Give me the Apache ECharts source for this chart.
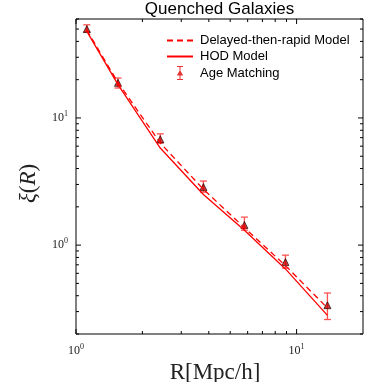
<!DOCTYPE html>
<html>
<head>
<meta charset="utf-8">
<script src="https://cdn.jsdelivr.net/npm/echarts@6/dist/echarts.min.js"></script>
<style>
  html, body { margin: 0; padding: 0; background: #fff; }
  #chart { width: 382px; height: 382px; }
</style>
</head>
<body>
<div id="chart"></div>
<script>
// separation R [Mpc/h]
const radius = [1.12, 1.55, 2.41, 3.78, 5.8, 8.9, 13.8];
const delayedModel = [49, 19, 6.35, 2.75, 1.37, 0.69, 0.32];
const hodModel = [48, 18.3, 5.8, 2.5, 1.31, 0.65, 0.28];
const ageMatching = [50, 18.9, 6.8, 2.86, 1.44, 0.735, 0.337];
const ageErrLow = [47.5, 17.2, 6.35, 2.61, 1.31, 0.66, 0.26];
const ageErrHigh = [54, 20.6, 7.5, 3.19, 1.66, 0.834, 0.42];

const xMin = 1, xMax = 20, yMin = 0.2, yMax = 60;
const xMajorTicks = [1, 10];
const xMinorTicks = [2, 3, 4, 5, 6, 7, 8, 9];
const yMajorTicks = [1, 10];
const yMinorTicks = [0.2, 0.3, 0.4, 0.5, 0.6, 0.7, 0.8, 0.9, 2, 3, 4, 5, 6, 7, 8, 9, 20, 30, 40, 50, 60];

const serif = '"Liberation Serif", "DejaVu Serif", serif';
const sans = '"Liberation Sans", Arial, sans-serif';

const pairs = ys => radius.map((x, i) => [x, ys[i]]);

const powLabel = v => {
  const l = Math.log10(v);
  const e = Math.round(l);
  if (Math.abs(l - e) > 1e-6) return '';
  return '{b|10}{s|' + e + '}';
};
const powRich = {
  b: { fontFamily: serif, fontSize: 12, color: '#222', lineHeight: 16 },
  s: { fontFamily: serif, fontSize: 8, color: '#222', lineHeight: 9, verticalAlign: 'top' }
};

// tick marks on all four sides, pointing inward
const xTicks = (vals, len) => ({
  type: 'custom',
  silent: true,
  data: vals.map(v => [v, yMin]),
  renderItem: (params, api) => {
    const cs = params.coordSys;
    const p = api.coord([api.value(0), yMin]);
    const st = { stroke: '#000', lineWidth: 1 };
    const bottom = cs.y + cs.height;
    return {
      type: 'group',
      children: [
        { type: 'line', shape: { x1: p[0], y1: bottom, x2: p[0], y2: bottom - len }, style: st },
        { type: 'line', shape: { x1: p[0], y1: cs.y, x2: p[0], y2: cs.y + len }, style: st }
      ]
    };
  }
});
const yTicks = (vals, len) => ({
  type: 'custom',
  silent: true,
  data: vals.map(v => [xMin, v]),
  renderItem: (params, api) => {
    const cs = params.coordSys;
    const p = api.coord([xMin, api.value(1)]);
    const st = { stroke: '#000', lineWidth: 1 };
    const right = cs.x + cs.width;
    return {
      type: 'group',
      children: [
        { type: 'line', shape: { x1: cs.x, y1: p[1], x2: cs.x + len, y2: p[1] }, style: st },
        { type: 'line', shape: { x1: right, y1: p[1], x2: right - len, y2: p[1] }, style: st }
      ]
    };
  }
});

const chart = echarts.init(document.getElementById('chart'));

chart.setOption({
  animation: false,
  backgroundColor: '#fff',
  title: {
    text: 'Quenched Galaxies',
    left: 219.5,
    textAlign: 'center',
    top: 1,
    padding: 0,
    textStyle: { fontFamily: sans, fontSize: 17, fontWeight: 'normal', color: '#000' }
  },
  grid: {
    left: 76, right: 19, top: 19, bottom: 48,
    outerBoundsMode: 'none',
    show: true, borderColor: '#000', borderWidth: 1, backgroundColor: 'transparent'
  },
  legend: {
    orient: 'vertical',
    left: 161,
    top: 29,
    itemWidth: 26,
    itemHeight: 14,
    itemGap: 3,
    textStyle: { fontFamily: sans, fontSize: 13, color: '#000', padding: [0, 0, 0, 2] },
    data: [
      { name: 'Delayed-then-rapid Model', itemStyle: { opacity: 0 } },
      { name: 'HOD Model', itemStyle: { opacity: 0 } },
      {
        name: 'Age Matching',
        icon: 'path://M-3,-7h6v1h-6Z M-0.5,-7h1v14h-1Z M-3,6h6v1h-6Z M-3.2,2.5L0,-3L3.2,2.5Z',
        itemStyle: { color: '#e00000', borderWidth: 0 }
      }
    ]
  },
  xAxis: {
    type: 'log',
    logBase: 10,
    min: xMin,
    max: xMax,
    name: 'R[Mpc/h]',
    nameLocation: 'middle',
    nameGap: 20,
    nameTextStyle: { fontFamily: serif, fontSize: 23, color: '#222', padding: [0, 9, 0, 0] },
    axisLine: { show: false },
    axisTick: { show: false },
    splitLine: { show: false },
    axisLabel: { formatter: powLabel, rich: powRich, margin: 9, showMinLabel: true }
  },
  yAxis: {
    type: 'log',
    logBase: 10,
    min: yMin,
    max: yMax,
    name: '{i|ξ}({i|R})',
    nameLocation: 'middle',
    nameRotate: 90,
    nameGap: 36,
    nameTextStyle: {
      fontFamily: serif, fontSize: 23, color: '#222', padding: [0, 14, 0, 0],
      rich: { i: { fontFamily: serif, fontSize: 23, fontStyle: 'italic', color: '#222' } }
    },
    axisLine: { show: false },
    axisTick: { show: false },
    splitLine: { show: false },
    axisLabel: { formatter: powLabel, rich: powRich, margin: 8 }
  },
  series: [
    xTicks(xMajorTicks, 5),
    xTicks(xMinorTicks, 3),
    yTicks(yMajorTicks, 5),
    yTicks(yMinorTicks, 3),
    {
      name: 'Delayed-then-rapid Model',
      type: 'line',
      data: pairs(delayedModel),
      symbol: 'none',
      lineStyle: { color: '#ff0000', width: 1.3, type: [6, 4] },
      itemStyle: { color: '#ff0000' }
    },
    {
      name: 'HOD Model',
      type: 'line',
      data: pairs(hodModel),
      symbol: 'none',
      lineStyle: { color: '#ff0000', width: 1.3 },
      itemStyle: { color: '#ff0000' }
    },
    {
      name: 'Age Matching errors',
      type: 'custom',
      silent: true,
      data: radius.map((x, i) => [x, ageErrLow[i], ageErrHigh[i]]),
      encode: { x: 0, y: [1, 2] },
      renderItem: (params, api) => {
        const lo = api.coord([api.value(0), api.value(1)]);
        const hi = api.coord([api.value(0), api.value(2)]);
        const st = { stroke: '#ff5050', lineWidth: 1.3 };
        const w = 3.5;
        return {
          type: 'group',
          children: [
            { type: 'line', shape: { x1: lo[0], y1: lo[1], x2: hi[0], y2: hi[1] }, style: st },
            { type: 'line', shape: { x1: lo[0] - w, y1: lo[1], x2: lo[0] + w, y2: lo[1] }, style: st },
            { type: 'line', shape: { x1: hi[0] - w, y1: hi[1], x2: hi[0] + w, y2: hi[1] }, style: st }
          ]
        };
      }
    },
    {
      name: 'Age Matching',
      type: 'scatter',
      data: pairs(ageMatching),
      symbol: 'triangle',
      symbolSize: 7,
      itemStyle: { color: '#d00000', borderColor: '#000', borderWidth: 0.8 }
    }
  ]
});
</script>
</body>
</html>
